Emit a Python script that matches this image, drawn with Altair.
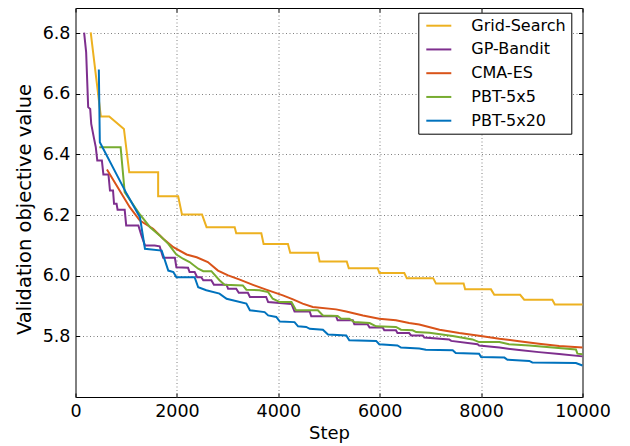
import altair as alt
import pandas as pd

series_names = ["Grid-Search", "GP-Bandit", "CMA-ES", "PBT-5x5", "PBT-5x20"]
series_colors = ["#EDB120", "#7E2F8E", "#D95319", "#77AC30", "#0072BD"]

grid_steps = [300, 500, 665, 955, 1060, 1630, 1630, 2025, 2100, 2495, 2585, 3140, 3170, 3665,
              3710, 4190, 4235, 4780, 4815, 5350, 5390, 5960, 5995, 6485, 6535, 7055, 7110,
              7655, 7685, 8195, 8260, 8770, 8850, 9405, 9455, 10000]
grid_vals = [6.803, 6.525, 6.525, 6.484, 6.341, 6.341, 6.262, 6.262, 6.202, 6.202, 6.160, 6.160,
             6.140, 6.140, 6.105, 6.105, 6.076, 6.076, 6.047, 6.047, 6.025, 6.025, 6.009, 6.009,
             5.992, 5.992, 5.974, 5.974, 5.955, 5.955, 5.937, 5.937, 5.921, 5.921, 5.905, 5.905]

gp_steps = [170, 210, 250, 290, 310, 360, 400, 430, 520, 550, 650, 680, 740, 760, 810, 830, 970,
            1000, 1240, 1300, 1370, 1560, 1660, 1730, 1960, 1990, 2220, 2250, 2350, 2400, 2480,
            2520, 2680, 2730, 2980, 3010, 3170, 3220, 3400, 3440, 3760, 3800, 4260, 4320, 4620,
            4650, 5140, 5170, 5470, 5500, 5760, 5800, 6060, 6090, 6320, 6350, 6580, 6620, 6850,
            6880, 7370, 7410, 7930, 7960, 8360, 8750, 9140, 9540, 10000]
gp_vals = [6.802, 6.737, 6.556, 6.550, 6.501, 6.457, 6.424, 6.380, 6.380, 6.334, 6.334, 6.281,
           6.281, 6.237, 6.237, 6.218, 6.218, 6.166, 6.166, 6.133, 6.100, 6.100, 6.097, 6.059,
           6.059, 6.028, 6.026, 6.012, 6.012, 5.995, 5.995, 5.985, 5.985, 5.970, 5.970, 5.957,
           5.957, 5.944, 5.944, 5.930, 5.930, 5.913, 5.907, 5.882, 5.882, 5.866, 5.866, 5.853,
           5.853, 5.840, 5.840, 5.829, 5.829, 5.820, 5.820, 5.811, 5.811, 5.803, 5.803, 5.796,
           5.790, 5.785, 5.774, 5.770, 5.763, 5.755, 5.748, 5.742, 5.734]

cma_steps = [620, 1070, 1270, 1530, 1730, 1930, 2190, 2390, 2610, 2810, 3010, 3240, 3500, 3760,
             4090, 4290, 4480, 4680, 5140, 5340, 5670, 5990, 6320, 6580, 6780, 7180, 7570, 7960,
             8360, 8750, 9140, 9540, 10000]
cma_vals = [6.350, 6.226, 6.182, 6.155, 6.122, 6.094, 6.070, 6.061, 6.045, 6.017, 6.001, 5.987,
            5.970, 5.954, 5.935, 5.922, 5.908, 5.897, 5.889, 5.882, 5.869, 5.858, 5.853, 5.844,
            5.839, 5.822, 5.811, 5.802, 5.792, 5.784, 5.776, 5.768, 5.763]

pbt5_steps = [470, 890, 970, 1270, 1470, 1660, 1830, 1990, 2120, 2250, 2420, 2520, 2680, 2840,
              2940, 3300, 3370, 3630, 3800, 3890, 4030, 4260, 4350, 4780, 4880, 5170, 5240, 5400,
              5500, 5800, 5930, 6320, 6420, 6650, 6720, 6980, 7440, 7830, 7960, 8360, 8550, 8950,
              9410, 9870, 9900, 10000]
pbt5_vals = [6.424, 6.424, 6.276, 6.202, 6.160, 6.133, 6.105, 6.070, 6.056, 6.045, 6.023, 6.015,
             6.015, 5.985, 5.970, 5.968, 5.954, 5.952, 5.946, 5.924, 5.913, 5.913, 5.886, 5.886,
             5.869, 5.867, 5.858, 5.858, 5.847, 5.844, 5.833, 5.831, 5.822, 5.820, 5.814, 5.812,
             5.801, 5.790, 5.781, 5.781, 5.774, 5.770, 5.763, 5.757, 5.743, 5.741]

pbt20_steps = [460, 480, 1010, 1270, 1370, 1700, 1830, 1930, 1990, 2350, 2420, 2580, 2840, 2980,
               3370, 3440, 3730, 3800, 3960, 4030, 4320, 4390, 4550, 4620, 4880, 4980, 5340, 5400,
               5930, 5990, 6350, 6420, 6780, 6910, 7440, 7500, 7960, 8000, 8460, 8520, 8950, 9010,
               9870, 10000]
pbt20_vals = [6.680, 6.440, 6.270, 6.193, 6.089, 6.083, 6.017, 6.012, 5.995, 5.995, 5.962, 5.952,
              5.941, 5.924, 5.908, 5.886, 5.880, 5.869, 5.864, 5.849, 5.847, 5.833, 5.831, 5.825,
              5.822, 5.806, 5.803, 5.787, 5.785, 5.774, 5.770, 5.763, 5.760, 5.756, 5.754, 5.745,
              5.743, 5.732, 5.730, 5.723, 5.719, 5.714, 5.712, 5.704]

x_ticks = [0, 2000, 4000, 6000, 8000, 10000]
y_ticks = [5.8, 6.0, 6.2, 6.4, 6.6, 6.8]

rows = []
for name, st, vl in zip(series_names,
                        [grid_steps, gp_steps, cma_steps, pbt5_steps, pbt20_steps],
                        [grid_vals, gp_vals, cma_vals, pbt5_vals, pbt20_vals]):
    for i, (s, v) in enumerate(zip(st, vl)):
        rows.append({"series": name, "step": s, "value": v, "idx": i})
df = pd.DataFrame(rows)

FONT = "DejaVu Sans"
xscale = alt.Scale(domain=[0, 10000], nice=False, zero=False)
yscale = alt.Scale(domain=[5.6, 6.883], nice=False, zero=False)

main_x = alt.Axis(values=x_ticks, format="d", title="Step", grid=True, gridDash=[1, 2.5],
                  gridColor="#808080", gridWidth=1, ticks=False, domain=False,
                  labelFont=FONT, labelFontSize=17.5, labelColor="black", labelPadding=5,
                  titleFont=FONT, titleFontSize=18, titleFontWeight="normal", titleColor="black",
                  titlePadding=5, labelFlush=False)
main_y = alt.Axis(values=y_ticks, format=".1f", title="Validation objective value", grid=True,
                  gridDash=[1, 2.5], gridColor="#808080", gridWidth=1, ticks=False, domain=False,
                  labelFont=FONT, labelFontSize=17.5, labelColor="black", labelPadding=5.5,
                  titleFont=FONT, titleFontSize=19.5, titleFontWeight="normal", titleColor="black",
                  titlePadding=8, titleY=201)

legend = alt.Legend(orient="none", legendX=342.8, legendY=4.7, title=None,
                    symbolType="M-2,0H2", symbolSize=156.25, symbolStrokeWidth=2,
                    symbolOffset=7.5, labelOffset=24.5,
                    labelFont=FONT, labelFontSize=16, labelColor="black",
                    padding=5, rowPadding=7.75, strokeColor="black", fillColor="white",
                    cornerRadius=0)

lines = alt.Chart(df).mark_line(strokeWidth=2).encode(
    x=alt.X("step:Q", scale=xscale, axis=main_x),
    y=alt.Y("value:Q", scale=yscale, axis=main_y),
    color=alt.Color("series:N", scale=alt.Scale(domain=series_names, range=series_colors),
                    legend=legend),
    order="idx:Q",
    detail="series:N",
)

ticks_bl = alt.Chart(df).mark_point(opacity=0).encode(
    x=alt.X("step:Q", scale=xscale,
            axis=alt.Axis(orient="bottom", offset=-4, tickSize=4, tickColor="black", labels=False,
                          domain=False, grid=False, title=None, values=x_ticks)),
    y=alt.Y("value:Q", scale=yscale,
            axis=alt.Axis(orient="left", offset=-4, tickSize=4, tickColor="black", labels=False,
                          domain=False, grid=False, title=None, values=y_ticks)),
)
ticks_tr = alt.Chart(df).mark_point(opacity=0).encode(
    x=alt.X("step:Q", scale=xscale,
            axis=alt.Axis(orient="top", offset=-4, tickSize=4, tickColor="black", labels=False,
                          domain=False, grid=False, title=None, values=x_ticks)),
    y=alt.Y("value:Q", scale=yscale,
            axis=alt.Axis(orient="right", offset=-4, tickSize=4, tickColor="black", labels=False,
                          domain=False, grid=False, title=None, values=y_ticks)),
)

chart = alt.layer(lines, ticks_bl, ticks_tr).resolve_axis(
    x="independent", y="independent"
).properties(
    width=507, height=389,
    padding={"left": 67.5, "top": 0, "right": 39.5, "bottom": 49},
    autosize=alt.AutoSizeParams(type="none"),
    background="white",
).configure_view(stroke="black", strokeWidth=1)

chart.save("out.html", embed_options={"renderer": "svg", "actions": False})
